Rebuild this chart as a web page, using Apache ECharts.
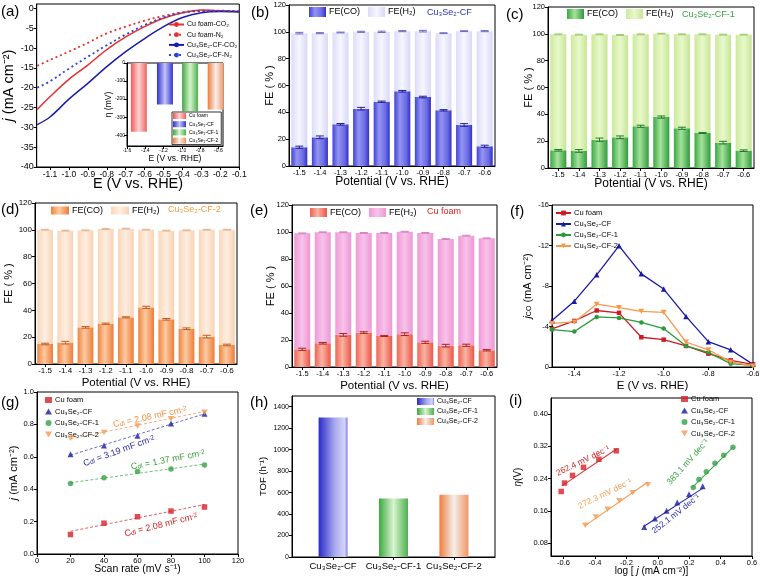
<!DOCTYPE html>
<html><head><meta charset="utf-8">
<script src="https://cdn.jsdelivr.net/npm/echarts@6/dist/echarts.min.js"></script>
<style>html,body{margin:0;padding:0;background:#fff}#c{width:760px;height:579px}</style>
</head><body><div id="c"></div>
<script>
// ---------------- DATA ----------------
// (a) LSV curves
const lsvE = [-1.167,-1.1,-1.0,-0.9,-0.8,-0.7,-0.6,-0.5,-0.4,-0.3,-0.2,-0.1];
const jCuCO2 = [-25.5,-22.3,-17.9,-14.3,-10.4,-7.2,-4.6,-2.5,-1.1,-0.4,-0.6,-0.8];
const jCuN2  = [-14.5,-13.0,-10.9,-8.7,-6.3,-4.6,-3.1,-1.9,-1.0,-0.6,-0.6,-0.7];
const jCFCO2 = [-29.3,-27.4,-22.9,-18.9,-14.7,-10.9,-7.6,-4.6,-2.3,-1.1,-0.8,-0.9];
const jCFN2  = [-20.0,-18.4,-15.2,-12.2,-9.3,-6.6,-4.2,-2.3,-1.1,-0.7,-0.7,-0.8];
// (a) inset overpotential
const insetNames = ['Cu foam','Cu₃Se₂-CF','Cu₃Se₂-CF-1','Cu₃Se₂-CF-2'];
const insetE = [-1.47,-1.185,-0.91,-0.63];
const insetEta = [-381,-230,-267,-258];
// (b)-(e) Faradaic efficiency
const potentials = ['-1.5','-1.4','-1.3','-1.2','-1.1','-1.0','-0.9','-0.8','-0.7','-0.6'];
const coB = [14.0,21.4,31.1,42.7,47.9,55.7,51.4,41.5,30.6,14.7];
const h2B = [85.0,77.6,68.4,57.3,52.1,44.8,49.1,57.5,69.9,85.8];
const coErrB = [0.8,1.0,0.6,1.0,0.5,0.6,0.6,0.5,1.0,0.8];
const h2ErrB = [0.6,0.4,0.3,0.4,0.5,0.4,0.6,0.3,0.3,0.4];
const coC = [13.2,12.7,21.1,22.9,31.1,38.0,29.6,26.1,18.9,12.9];
const h2C = [86.4,86.7,78.5,76.2,68.5,62.1,70.0,73.5,80.5,86.5];
const coErrC = [0.6,1.0,1.2,1.0,0.8,0.8,0.8,0.4,1.0,0.6];
const h2ErrC = [0.3,0.3,0.3,0.3,0.3,0.3,0.3,0.3,0.3,0.3];
const coD = [14.9,15.9,27.3,30.0,34.8,42.2,33.3,26.3,20.4,14.2];
const h2D = [85.2,83.5,72.3,70.6,66.1,57.9,66.1,73.3,79.7,85.9];
const coErrD = [0.6,1.0,0.6,0.5,0.4,0.8,0.6,0.6,1.0,0.6];
const h2ErrD = [0.3,0.3,0.3,0.3,0.3,0.3,0.3,0.3,0.3,0.3];
const coE = [13.1,17.6,23.8,25.5,23.0,24.3,18.3,15.8,16.1,12.4];
const h2E = [85.9,82.2,76.0,73.8,76.3,75.9,81.0,79.0,81.2,82.9];
const coErrE = [0.8,0.6,1.0,0.6,0.4,1.0,0.8,1.0,0.8,0.5];
const h2ErrE = [0.3,0.3,0.3,0.3,0.3,0.3,0.3,0.3,0.3,0.3];
// (f) partial current density of CO
const fE = [-1.5,-1.4,-1.3,-1.2,-1.1,-1.0,-0.9,-0.8,-0.7,-0.6];
const fCu  = [-3.76,-4.55,-5.58,-5.35,-2.94,-2.70,-2.08,-1.32,-0.66,-0.26];
const fCF  = [-4.6,-6.5,-9.1,-11.97,-9.2,-7.7,-5.0,-2.5,-1.7,-0.26];
const fCF1 = [-3.7,-3.5,-4.95,-4.85,-4.4,-3.8,-2.08,-1.45,-0.33,-0.16];
const fCF2 = [-4.3,-4.45,-6.2,-5.87,-5.5,-5.4,-2.47,-1.7,-0.5,-0.1];
// (g) double-layer capacitance
const scanRate = [20,40,60,80,100];
const gCu  = [0.12,0.19,0.23,0.265,0.29];
const gCF  = [0.615,0.67,0.73,0.805,0.865];
const gCF1 = [0.435,0.47,0.51,0.525,0.55];
const gCF2 = [0.715,0.75,0.79,0.835,0.875];
const gFitX = [20,100];
const gFitCu  = [0.14,0.305];
const gFitCF  = [0.61,0.865];
const gFitCF1 = [0.44,0.555];
const gFitCF2 = [0.71,0.88];
// (h) TOF
const tofNames = ['Cu₃Se₂-CF','Cu₃Se₂-CF-1','Cu₃Se₂-CF-2'];
const tofValues = [1300,545,580];
// (i) Tafel
const tafCuX  = [-0.615,-0.594,-0.543,-0.473,-0.375,-0.264];
const tafCuY  = [0.208,0.229,0.248,0.268,0.288,0.309];
const tafCFX  = [-0.086,-0.018,0.056,0.124,0.199,0.286];
const tafCFY  = [0.120,0.141,0.160,0.181,0.201,0.221];
const tafCF1X = [0.226,0.262,0.309,0.364,0.420,0.479];
const tafCF1Y = [0.218,0.238,0.257,0.278,0.298,0.318];
const tafCF2X = [-0.462,-0.394,-0.320,-0.245,-0.160,-0.063];
const tafCF2Y = [0.124,0.145,0.164,0.185,0.205,0.225];
const fitCuX = [-0.61,-0.26],  fitCuY = [0.222,0.314];
const fitCFX = [-0.09,0.29],   fitCFY = [0.121,0.217];
const fitCF1X = [0.22,0.48],   fitCF1Y = [0.218,0.318];
const fitCF2X = [-0.46,-0.065],fitCF2Y = [0.124,0.231];

// ---------------- HELPERS ----------------
const FONT = '"Liberation Sans", Arial, sans-serif';
const DOWN_TRI = 'path://M0,0L20,0L10,17Z';
const zip = (xs, ys) => xs.map((x, i) => [x, ys[i]]);
const G = arr => ({type:'linear', x:0, y:0, x2:1, y2:0, colorStops: arr.map(([o,c]) => ({offset:o, color:c}))});
const f1 = v => (+v).toFixed(1);
const f2 = v => (+v).toFixed(2);
const plain = v => String(v);

function mkAxis(gi, o){
  const a = {
    type: o.type || 'value', gridIndex: gi, inverse: !!o.inverse,
    name: o.name || '', nameLocation: 'middle', nameGap: o.nameGap || 10, nameMoveOverlap: false,
    nameTextStyle: {color:'#000', fontFamily:FONT, fontSize:o.nameSize || 11, rich:o.rich},
    axisLine: {show:true, onZero:false, lineStyle:{color:'#000', width:1}},
    axisTick: {show:true, length:3, lineStyle:{color:'#000', width:1}},
    axisLabel: {color:'#000', fontFamily:FONT, fontSize:o.labelSize || 7.5, margin:o.margin || 3, hideOverlap:false},
    splitLine: {show:false}
  };
  if (o.min !== undefined) a.min = o.min;
  if (o.max !== undefined) a.max = o.max;
  if (o.interval !== undefined) a.interval = o.interval;
  if (o.ticks) { a.axisLabel.customValues = o.ticks; a.axisTick.customValues = o.ticks; }
  a.axisLabel.formatter = o.fmt || (a.type === 'value' ? plain : undefined);
  if (o.data) { a.data = o.data; a.axisTick.alignWithLabel = true; }
  return a;
}

function errSeries(k, tops, errs, color){
  return {
    type:'custom', xAxisIndex:k, yAxisIndex:k, silent:true, z:5,
    encode:{x:0, y:[1,2]},
    data: tops.map((t,i) => [i, t - errs[i], t + errs[i]]),
    renderItem: (params, api) => {
      const x = api.value(0);
      const lo = api.coord([x, api.value(1)]);
      const hi = api.coord([x, api.value(2)]);
      const w = 4;
      const st = {stroke:color, lineWidth:1};
      return {type:'group', children:[
        {type:'line', shape:{x1:lo[0], y1:lo[1], x2:hi[0], y2:hi[1]}, style:st},
        {type:'line', shape:{x1:lo[0]-w, y1:lo[1], x2:lo[0]+w, y2:lo[1]}, style:st},
        {type:'line', shape:{x1:hi[0]-w, y1:hi[1], x2:hi[0]+w, y2:hi[1]}, style:st}
      ]};
    }
  };
}

function fePanel(k, tag, co, h2, coErr, h2Err, coGrad, h2Grad, coErrCol, h2ErrCol){
  const tot = co.map((v,i) => v + h2[i]);
  return [
    {type:'bar', name:'FE(CO)#'+tag, xAxisIndex:k, yAxisIndex:k, stack:'fe'+tag, data:co, barWidth:'78%', itemStyle:{color:G(coGrad)}},
    {type:'bar', name:'FE(H₂)#'+tag, xAxisIndex:k, yAxisIndex:k, stack:'fe'+tag, data:h2, barWidth:'78%', itemStyle:{color:G(h2Grad)}},
    errSeries(k, co, coErr, coErrCol),
    errSeries(k, tot, h2Err, h2ErrCol)
  ];
}

// colours
const cRed = '#d42028', cBlue = '#1a1aa0', cGreen = '#36a145', cOrange = '#f59a52';
const gradB  = [[0,'#4242d6'],[0.35,'#9494f2'],[0.75,'#6a6ae4'],[1,'#3030c8']];
const gradBH = [[0,'#dcdcf8'],[0.5,'#f6f6ff'],[1,'#d8d8f6']];
const gradC  = [[0,'#3aa844'],[0.45,'#a6e29c'],[1,'#2f9c3a']];
const gradCH = [[0,'#cbe99a'],[0.5,'#e9f8cc'],[1,'#c6e694']];
const gradD  = [[0,'#f08440'],[0.45,'#fccaa2'],[1,'#ee7c36']];
const gradDH = [[0,'#f9d6b8'],[0.5,'#fdeee2'],[1,'#f8d2b2']];
const gradE  = [[0,'#ef6454'],[0.45,'#f9b4a4'],[1,'#ec5646']];
const gradEH = [[0,'#f09ad6'],[0.5,'#f7c2ea'],[1,'#ee96d4']];
const gradRedBar    = [[0,'#f05a5a'],[0.5,'#fcd2d2'],[1,'#f26464']];
const gradBlueBar   = [[0,'#2a2ac8'],[0.55,'#a8a8f0'],[0.9,'#d4d4fa'],[1,'#7c7ce6']];
const gradGreenBar  = [[0,'#3ea83e'],[0.5,'#d8f4d0'],[1,'#4cb04c']];
const gradOrangeBar = [[0,'#f07c3c'],[0.5,'#f4f0ec'],[1,'#f29464']];
const gradBlueIn    = [[0,'#3030d0'],[0.5,'#c4c4f8'],[1,'#3434d0']];

// ---------------- LAYOUT ----------------
const grids = [
  {left:36.7, top:4,   width:202.6, height:163},   // 0 (a)
  {left:127,  top:63,  width:96,    height:83, backgroundColor:'#fff'}, // 1 inset
  {left:289,  top:5,   width:206,   height:161},   // 2 (b)
  {left:548,  top:7,   width:206,   height:161},   // 3 (c)
  {left:35,   top:203, width:202,   height:161},   // 4 (d)
  {left:292,  top:205, width:205,   height:162},   // 5 (e)
  {left:552,  top:205, width:201,   height:162},   // 6 (f)
  {left:37,   top:392, width:201,   height:162},   // 7 (g)
  {left:292,  top:396, width:203,   height:161},   // 8 (h)
  {left:551,  top:398, width:201,   height:158}    // 9 (i)
].map(g => Object.assign({show:true, borderColor:'#000', borderWidth:1, containLabel:false, outerBoundsMode:'none'}, g));

const xAxes = [
  mkAxis(0, {min:-1.17, max:-0.1, ticks:[-1.1,-1.0,-0.9,-0.8,-0.7,-0.6,-0.5,-0.4,-0.3,-0.2,-0.1], fmt:f1, labelSize:8.5, name:'E (V vs. RHE)', nameSize:14.5, nameGap:9}),
  mkAxis(1, {min:-1.6, max:-0.55, ticks:[-1.6,-1.4,-1.2,-1.0,-0.8,-0.6], fmt:f1, labelSize:5, margin:2, name:'E (V vs. RHE)', nameSize:8.5, nameGap:8}),
  mkAxis(2, {type:'category', data:potentials, labelSize:7.5, name:'Potential (V vs. RHE)', nameSize:12, nameGap:10}),
  mkAxis(3, {type:'category', data:potentials, labelSize:7.5, name:'Potential (V vs. RHE)', nameSize:12, nameGap:10}),
  mkAxis(4, {type:'category', data:potentials, labelSize:8, name:'Potential (V vs. RHE)', nameSize:11.5, nameGap:13}),
  mkAxis(5, {type:'category', data:potentials, labelSize:7.5, name:'Potential (V vs. RHE)', nameSize:11.5, nameGap:13}),
  mkAxis(6, {min:-1.5, max:-0.6, ticks:[-1.4,-1.2,-1.0,-0.8,-0.6], fmt:f1, labelSize:7.5, name:'E (V vs. RHE)', nameSize:11.5, nameGap:13}),
  mkAxis(7, {min:0, max:120, interval:20, labelSize:7.5, name:'Scan rate (mV s⁻¹)', nameSize:10.5, nameGap:10}),
  mkAxis(8, {min:-0.68, max:2.68, ticks:[0,1,2], fmt:v => tofNames[Math.round(v)], labelSize:9.5, margin:4}),
  mkAxis(9, {min:-0.68, max:0.6, ticks:[-0.6,-0.4,-0.2,0,0.2,0.4,0.6], fmt:f1, labelSize:7.5, name:'log [ {i|j} (mA cm⁻²)]', rich:{i:{fontStyle:'italic', fontSize:10, fontFamily:FONT}}, nameSize:10, nameGap:10})
];
const yAxes = [
  mkAxis(0, {min:-40, max:1.1, ticks:[0,-5,-10,-15,-20,-25,-30,-35,-40], labelSize:9, name:'{i|j} (mA cm⁻²)', rich:{i:{fontStyle:'italic', fontSize:14.5, fontFamily:FONT}}, nameSize:14.5, nameGap:20}),
  mkAxis(1, {min:-460, max:0, ticks:[0,-100,-200,-300,-400], labelSize:5, margin:2, name:'η (mV)', nameSize:8.5, nameGap:14}),
  mkAxis(2, {min:0, max:120, interval:20, labelSize:7.5, name:'FE ( % )', nameSize:11, nameGap:14}),
  mkAxis(3, {min:0, max:120, interval:20, labelSize:7.5, name:'FE ( % )', nameSize:11, nameGap:14}),
  mkAxis(4, {min:0, max:120, interval:20, labelSize:8, name:'FE ( % )', nameSize:11, nameGap:21}),
  mkAxis(5, {min:0, max:120, interval:20, labelSize:7.5, name:'FE ( % )', nameSize:11, nameGap:16}),
  mkAxis(6, {min:-16, max:0, interval:4, inverse:true, labelSize:7.5, name:'{i|j}{s|CO} (mA cm⁻²)', rich:{i:{fontStyle:'italic', fontSize:11, fontFamily:FONT}, s:{fontSize:7, verticalAlign:'bottom', fontFamily:FONT}}, nameSize:11, nameGap:19}),
  mkAxis(7, {min:0, max:1.0, interval:0.2, fmt:f1, labelSize:7.5, name:'{i|j} (mA cm⁻²)', rich:{i:{fontStyle:'italic', fontSize:11, fontFamily:FONT}}, nameSize:11, nameGap:18}),
  mkAxis(8, {min:0, max:1500, ticks:[0,200,400,600,800,1000,1200,1400], labelSize:7, name:'TOF (h⁻¹)', nameSize:9.5, nameGap:24}),
  mkAxis(9, {min:0.048, max:0.44, ticks:[0.08,0.16,0.24,0.32,0.40], fmt:f2, labelSize:7.5, name:'{i|η}(V)', rich:{i:{fontStyle:'italic', fontSize:10, fontFamily:FONT}}, nameSize:10, nameGap:28})
];

// ---------------- SERIES ----------------
const series = [];
// (a)
const lsv = (name, ys, color, dotted) => ({type:'line', name:name+'#a', xAxisIndex:0, yAxisIndex:0, data:zip(lsvE, ys), smooth:0.35, symbol:'none', lineStyle:{color, width:dotted?1.8:1.5, type:dotted?[2,3]:'solid'}, itemStyle:{color}});
series.push(lsv('Cu foam-CO₂', jCuCO2, '#e5302e', false));
series.push(lsv('Cu foam-N₂', jCuN2, '#e5302e', true));
series.push(lsv('Cu₃Se₂-CF-CO₂', jCFCO2, '#1c1caa', false));
series.push(lsv('Cu₃Se₂-CF-N₂', jCFN2, '#2f44d4', true));
// (a) inset
const insetGrads = [gradRedBar, gradBlueIn, gradGreenBar, gradOrangeBar];
insetNames.forEach((n,i) => series.push({type:'bar', name:n+'#in', xAxisIndex:1, yAxisIndex:1, barWidth:16, barGap:'-100%', data:[[insetE[i], insetEta[i]]], itemStyle:{color:G(insetGrads[i])}}));
// (b)-(e)
series.push(...fePanel(2, 'b', coB, h2B, coErrB, h2ErrB, gradB, gradBH, '#1e1e9a', '#6a6ac8'));
series.push(...fePanel(3, 'c', coC, h2C, coErrC, h2ErrC, gradC, gradCH, '#1f7a28', '#9cc86a'));
series.push(...fePanel(4, 'd', coD, h2D, coErrD, h2ErrD, gradD, gradDH, '#c85a1c', '#e8b088'));
series.push(...fePanel(5, 'e', coE, h2E, coErrE, h2ErrE, gradE, gradEH, '#b02020', '#d880c0'));
// (f)
const fl = (name, ys, color, sym, size) => ({type:'line', name:name+'#f', xAxisIndex:6, yAxisIndex:6, data:zip(fE, ys), symbol:sym, symbolSize:size, lineStyle:{color, width:1.3}, itemStyle:{color}});
series.push(fl('Cu foam', fCu, '#cc1c24', 'rect', 4.5));
series.push(fl('Cu₃Se₂-CF', fCF, '#1a1aa8', 'triangle', 5.5));
series.push(fl('Cu₃Se₂-CF-1', fCF1, '#2a9a3a', 'circle', 4.5));
series.push(fl('Cu₃Se₂-CF-2', fCF2, '#f79a4c', DOWN_TRI, [6,5]));
// (g)
const gs = (name, ys, color, sym, size) => ({type:'scatter', name:name+'#g', xAxisIndex:7, yAxisIndex:7, data:zip(scanRate, ys), symbol:sym, symbolSize:size, itemStyle:{color}, z:4});
const gl = (ys, color) => ({type:'line', xAxisIndex:7, yAxisIndex:7, data:zip(gFitX, ys), symbol:'none', lineStyle:{color, width:1, type:[3,2]}, silent:true});
series.push(gl(gFitCu, '#e06060'), gl(gFitCF, '#6a6ad0'), gl(gFitCF1, '#6cc070'), gl(gFitCF2, '#f6b080'));
series.push(gs('Cu foam', gCu, cRed, 'rect', 5.5));
series.push(gs('Cu₃Se₂-CF', gCF, cBlue, 'triangle', 6));
series.push(gs('Cu₃Se₂-CF-1', gCF1, cGreen, 'circle', 5.5));
series.push(gs('Cu₃Se₂-CF-2', gCF2, cOrange, DOWN_TRI, [6.5,5.5]));
// (h)
const tofGrads = [gradBlueBar, gradGreenBar, gradOrangeBar];
tofNames.forEach((n,i) => series.push({type:'bar', name:n+'#h', xAxisIndex:8, yAxisIndex:8, barWidth:29, barGap:'-100%', data:[[i, tofValues[i]]], itemStyle:{color:G(tofGrads[i])}}));
// (i)
const ts = (name, xs, ys, color, sym, size) => ({type:'scatter', name:name+'#i', xAxisIndex:9, yAxisIndex:9, data:zip(xs, ys), symbol:sym, symbolSize:size, itemStyle:{color}, z:4});
const tl = (xs, ys, color) => ({type:'line', xAxisIndex:9, yAxisIndex:9, data:zip(xs, ys), symbol:'none', lineStyle:{color, width:1.1}, silent:true});
series.push(tl(fitCuX, fitCuY, '#d83838'), tl(fitCFX, fitCFY, '#2a2ab0'), tl(fitCF1X, fitCF1Y, '#3aa648'), tl(fitCF2X, fitCF2Y, '#f59a52'));
series.push(ts('Cu foam', tafCuX, tafCuY, cRed, 'rect', 5.5));
series.push(ts('Cu₃Se₂-CF', tafCFX, tafCFY, cBlue, 'triangle', 6));
series.push(ts('Cu₃Se₂-CF-1', tafCF1X, tafCF1Y, cGreen, 'circle', 5.5));
series.push(ts('Cu₃Se₂-CF-2', tafCF2X, tafCF2Y, cOrange, DOWN_TRI, [6.5,5.5]));

// ---------------- LEGENDS ----------------
const LB = (o, size) => Object.assign({selectedMode:false, formatter:n => n.split('#')[0], padding:0,
  textStyle:{color:'#000', fontFamily:FONT, fontSize:size, padding:[0,0,0,-2]}}, o);
const legends = [
  LB({orient:'vertical', left:168, top:21, itemWidth:15, itemHeight:6, itemGap:3.2,
      data:['Cu foam-CO₂#a','Cu foam-N₂#a','Cu₃Se₂-CF-CO₂#a','Cu₃Se₂-CF-N₂#a']}, 7),
  LB({orient:'vertical', left:172, top:112, itemWidth:13, itemHeight:6, itemGap:2.2, padding:[1,3,1,1],
      borderColor:'#000', borderWidth:0.8, backgroundColor:'#fff', icon:'rect',
      data:insetNames.map(n => n+'#in')}, 5),
  LB({left:309, top:7, itemWidth:17, itemHeight:10, itemGap:8, icon:'rect', data:['FE(CO)#b','FE(H₂)#b']}, 9),
  LB({left:567, top:9, itemWidth:17, itemHeight:10, itemGap:8, icon:'rect', data:['FE(CO)#c','FE(H₂)#c']}, 9),
  LB({left:51, top:206, itemWidth:18, itemHeight:8, itemGap:8, icon:'rect', data:['FE(CO)#d','FE(H₂)#d']}, 9),
  LB({left:310, top:208, itemWidth:17, itemHeight:9, itemGap:8, icon:'rect', data:['FE(CO)#e','FE(H₂)#e']}, 9),
  LB({orient:'vertical', left:555, top:209, itemWidth:15, itemHeight:6, itemGap:3,
      data:['Cu foam#f','Cu₃Se₂-CF#f','Cu₃Se₂-CF-1#f','Cu₃Se₂-CF-2#f']}, 7.5),
  LB({orient:'vertical', left:45, top:396, itemWidth:7, itemHeight:6, itemGap:3.5,
      data:['Cu foam#g','Cu₃Se₂-CF#g','Cu₃Se₂-CF-1#g','Cu₃Se₂-CF-2#g']}, 7.5),
  LB({orient:'vertical', left:417, top:398, itemWidth:17, itemHeight:7, itemGap:3, icon:'rect',
      data:tofNames.map(n => n+'#h')}, 7),
  LB({orient:'vertical', left:681, top:395, itemWidth:7, itemHeight:6, itemGap:3.5,
      data:['Cu foam#i','Cu₃Se₂-CF#i','Cu₃Se₂-CF-1#i','Cu₃Se₂-CF-2#i']}, 7.5)
];

// ---------------- TEXT ANNOTATIONS ----------------
const label = (t, x, y) => ({type:'text', x, y, style:{text:t, fill:'#000', fontSize:15, fontFamily:FONT, verticalAlign:'middle'}});
const tag = (t, x, y, color, size) => ({type:'text', x, y, style:{text:t, fill:color, fontSize:size||9, fontFamily:FONT, verticalAlign:'middle'}});
function cdl(x, y, deg, val, color){
  const sz = 9;
  return {type:'text', x, y, rotation:deg*Math.PI/180, z:10, style:{
    text:'{n|C}{s|dl}{n| = ' + val + ' mF cm}{p|-2}', align:'center', verticalAlign:'middle', fill:color, fontSize:sz, fontFamily:FONT,
    rich:{n:{fill:color, fontSize:sz, fontFamily:FONT}, s:{fill:color, fontSize:6.5, fontFamily:FONT, verticalAlign:'bottom'}, p:{fill:color, fontSize:6.5, fontFamily:FONT, verticalAlign:'top'}}}};
}
function slope(x, y, deg, val, color){
  return {type:'text', x, y, rotation:deg*Math.PI/180, z:10, style:{text:val + ' mV dec⁻¹', align:'center', verticalAlign:'middle', fill:color, fontSize:8.5, fontFamily:FONT}};
}
const graphic = [
  label('(a)', 1, 12), label('(b)', 251, 13), label('(c)', 506, 15),
  label('(d)', 1, 210), label('(e)', 250, 211), label('(f)', 510, 212),
  label('(g)', 1, 403), label('(h)', 250, 403), label('(i)', 509, 401),
  tag('Cu₃Se₂-CF', 427, 13, '#2e2ec0', 9),
  tag('Cu₃Se₂-CF-1', 682, 15, '#36a040', 9),
  tag('Cu₃Se₂-CF-2', 168, 210, '#eea040', 9),
  tag('Cu foam', 427, 212, '#e02020', 9),
  cdl(150, 417, 12, '2.08', '#f29040'),
  cdl(119, 451, 20, '3.19', '#2a2aa8'),
  cdl(168, 460, 11, '1.37', '#3aa040'),
  cdl(161, 525, 14, '2.08', '#d02020'),
  slope(583, 461, 26, '262.4', '#d42020'),
  slope(605, 494, 26, '272.3', '#f2a050'),
  slope(688, 462, 48, '383.1', '#36a040'),
  slope(676, 514, 38, '252.1', '#2a2ab0')
];

const chart = echarts.init(document.getElementById('c'), null, {renderer:'canvas', width:760, height:579});
chart.setOption({
  animation:false, backgroundColor:'#fff',
  textStyle:{fontFamily:FONT},
  grid:grids, xAxis:xAxes, yAxis:yAxes, series, legend:legends, graphic
});
</script>
</body></html>
